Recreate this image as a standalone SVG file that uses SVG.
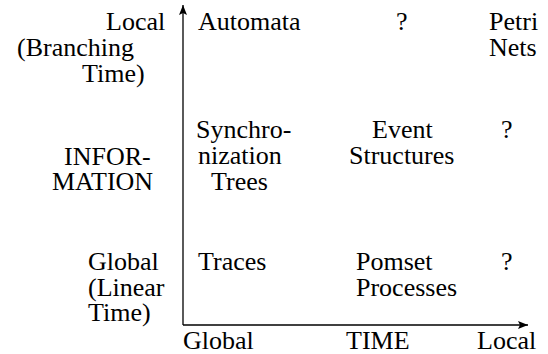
<svg xmlns="http://www.w3.org/2000/svg" width="548" height="354" viewBox="0 0 548 354">
  <defs>
    <marker id="arrow" viewBox="0 0 10 8" refX="10" refY="4" markerWidth="10" markerHeight="8" markerUnits="userSpaceOnUse" orient="auto">
      <path d="M0,0 L10,4 L0,8 L2,4 Z" fill="#000"/>
    </marker>
  </defs>
  <rect width="548" height="354" fill="#fff"/>

  <!-- axes -->
  <g id="axes" stroke="#000" stroke-width="1.3" fill="none">
    <line x1="183" y1="325" x2="183" y2="5" marker-end="url(#arrow)"/>
    <line x1="183" y1="325" x2="528" y2="325" marker-end="url(#arrow)"/>
  </g>

  <!-- vertical axis labels -->
  <g id="info-local">
    <text x="106" y="30" font-family="Liberation Serif" font-size="26">Local</text>
    <text x="17" y="56" font-family="Liberation Serif" font-size="26">(Branching</text>
    <text x="82" y="82" font-family="Liberation Serif" font-size="26">Time)</text>
  </g>
  <g id="info-axis">
    <text x="64" y="165" font-family="Liberation Serif" font-size="26">INFOR-</text>
    <text x="52" y="190" font-family="Liberation Serif" font-size="26">MATION</text>
  </g>
  <g id="info-global">
    <text x="88" y="270" font-family="Liberation Serif" font-size="26">Global</text>
    <text x="88" y="296" font-family="Liberation Serif" font-size="26">(Linear</text>
    <text x="88" y="321" font-family="Liberation Serif" font-size="26">Time)</text>
  </g>

  <!-- horizontal axis labels -->
  <g id="time-global"><text x="183" y="349" font-family="Liberation Serif" font-size="26">Global</text></g>
  <g id="time-axis"><text x="346" y="349" font-family="Liberation Serif" font-size="26">TIME</text></g>
  <g id="time-local"><text x="477" y="349" font-family="Liberation Serif" font-size="26">Local</text></g>

  <!-- top row: branching time -->
  <g id="automata"><text x="198" y="30" font-family="Liberation Serif" font-size="26">Automata</text></g>
  <g id="unknown-top"><text x="396" y="30" font-family="Liberation Serif" font-size="26">?</text></g>
  <g id="petri-nets">
    <text x="489" y="30" font-family="Liberation Serif" font-size="26">Petri</text>
    <text x="489" y="56" font-family="Liberation Serif" font-size="26">Nets</text>
  </g>

  <!-- middle row -->
  <g id="sync-trees">
    <text x="196" y="138" font-family="Liberation Serif" font-size="26">Synchro-</text>
    <text x="198" y="164" font-family="Liberation Serif" font-size="26">nization</text>
    <text x="211" y="190" font-family="Liberation Serif" font-size="26">Trees</text>
  </g>
  <g id="event-structures">
    <text x="372" y="138" font-family="Liberation Serif" font-size="26">Event</text>
    <text x="349" y="164" font-family="Liberation Serif" font-size="26">Structures</text>
  </g>
  <g id="unknown-mid"><text x="501" y="138" font-family="Liberation Serif" font-size="26">?</text></g>

  <!-- bottom row: linear time -->
  <g id="traces"><text x="198" y="270" font-family="Liberation Serif" font-size="26">Traces</text></g>
  <g id="pomset-processes">
    <text x="356" y="270" font-family="Liberation Serif" font-size="26">Pomset</text>
    <text x="356" y="296" font-family="Liberation Serif" font-size="26">Processes</text>
  </g>
  <g id="unknown-bottom"><text x="501" y="270" font-family="Liberation Serif" font-size="26">?</text></g>
</svg>
